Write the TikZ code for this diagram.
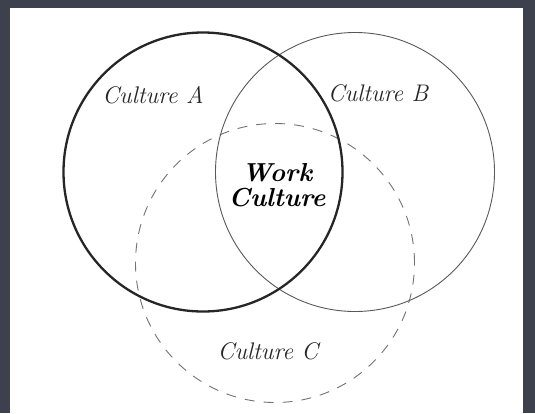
\documentclass[tikz,border=0pt]{standalone}
\usepackage{tikz}
\usetikzlibrary{backgrounds,positioning}
\tikzset{circly/.style={draw,circle,minimum size=279pt,inner sep=0},
    boldcircly/.style={circly,line width=2.3pt,draw=black!85},
    thincircly/.style={circly,line width=0.9pt,draw=black!65},
    dashcircly/.style={circly,line width=0.9pt,draw=black!55,dash pattern=on 10pt off 9pt},
    culturelabel/.style={font=\fontsize{24}{28}\selectfont\itshape,text=black!85},
    worklabel/.style={font=\fontsize{26}{25}\selectfont\bfseries\itshape,align=center}}

\begin{document}
\begin{tikzpicture}[x=1pt,y=-1pt]

\useasboundingbox (0,0) rectangle (535,413);
\fill [fill={rgb,255:red,60;green,65;blue,77}] (0,0) rectangle (535,413);
\fill [white] (10,8) rectangle (523,413);

\node (cC) [dashcircly] at (275,263) {};
\node (cB) [thincircly] at (355,172) {};
\node (cA) [boldcircly] at (203,172) {};

\node (la) [culturelabel] at (153,95) {Culture A};
\node (lb) [culturelabel] at (378,93) {Culture B};
\node (lc) [culturelabel] at (268,351) {Culture C};
\node (work) [worklabel] at (277,185) {Work\\Culture};

\end{tikzpicture}
\end{document}
